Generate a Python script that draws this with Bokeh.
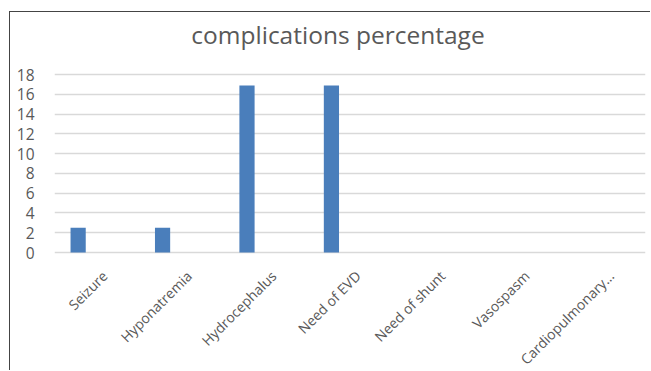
import math
from bokeh.plotting import figure
from bokeh.models import ColumnDataSource, FactorRange, Range1d, FixedTicker, Label
from bokeh.core.properties import value
from bokeh.transform import dodge
from bokeh.embed import file_html
from bokeh.resources import INLINE

title_text = "complications percentage"
categories = ["Seizure", "Hyponatremia", "Hydrocephalus", "Need of EVD",
              "Need of shunt", "Vasospasm", "Cardiopulmonary..."]
percentages = [2.5, 2.5, 16.9, 16.9, 0, 0, 0]
y_ticks = [0, 2, 4, 6, 8, 10, 12, 14, 16, 18]

FONT = "Open Sans"
GRAY = "#595959"

src = ColumnDataSource(dict(cat=categories, val=percentages,
                            zero=[0] * len(categories)))

# the frame spans the full height: room above 18 for the title and room
# below 0 for the rotated category labels (text glyphs anchored at y = 0)
p = figure(x_range=FactorRange(*categories), y_range=Range1d(-12.03, 24.27),
           width=641, height=359, output_backend="svg", toolbar_location=None,
           min_border_left=44, min_border_right=6, min_border_top=0,
           min_border_bottom=0)
p.margin = (11, 0, 0, 9)
p.styles = {"border-left": "1px solid #444444", "border-top": "1px solid #444444"}

p.vbar(x=dodge("cat", -0.22, range=p.x_range), top="val", width=0.18,
       source=src, fill_color="#4A7EBB", line_color=None)

p.text(x=dodge("cat", 0.095, range=p.x_range), y=dodge("zero", -2.1),
       text="cat", source=src, angle=math.pi / 4,
       text_align="right", text_baseline="alphabetic",
       text_font=value(FONT), text_font_size="14px", text_color=GRAY)

title = Label(x=283.5, y=337.5, x_units="screen", y_units="screen",
              text=title_text, text_align="center", text_baseline="alphabetic",
              text_font=FONT, text_font_size="24.5px", text_color=GRAY)
p.add_layout(title)

p.outline_line_color = None
p.background_fill_color = "white"
p.border_fill_color = "white"
p.xgrid.grid_line_color = None
p.ygrid.grid_line_color = "#d9d9d9"
p.ygrid.grid_line_width = 1.5

p.xaxis.visible = False

p.yaxis.ticker = FixedTicker(ticks=y_ticks)
p.yaxis.axis_line_color = None
p.yaxis.major_tick_line_color = None
p.yaxis.minor_tick_line_color = None
p.yaxis.major_label_standoff = 14
p.yaxis.major_label_text_font = FONT
p.yaxis.major_label_text_font_size = "15.5px"
p.yaxis.major_label_text_color = GRAY

open("out.html", "w").write(file_html(p, INLINE))
